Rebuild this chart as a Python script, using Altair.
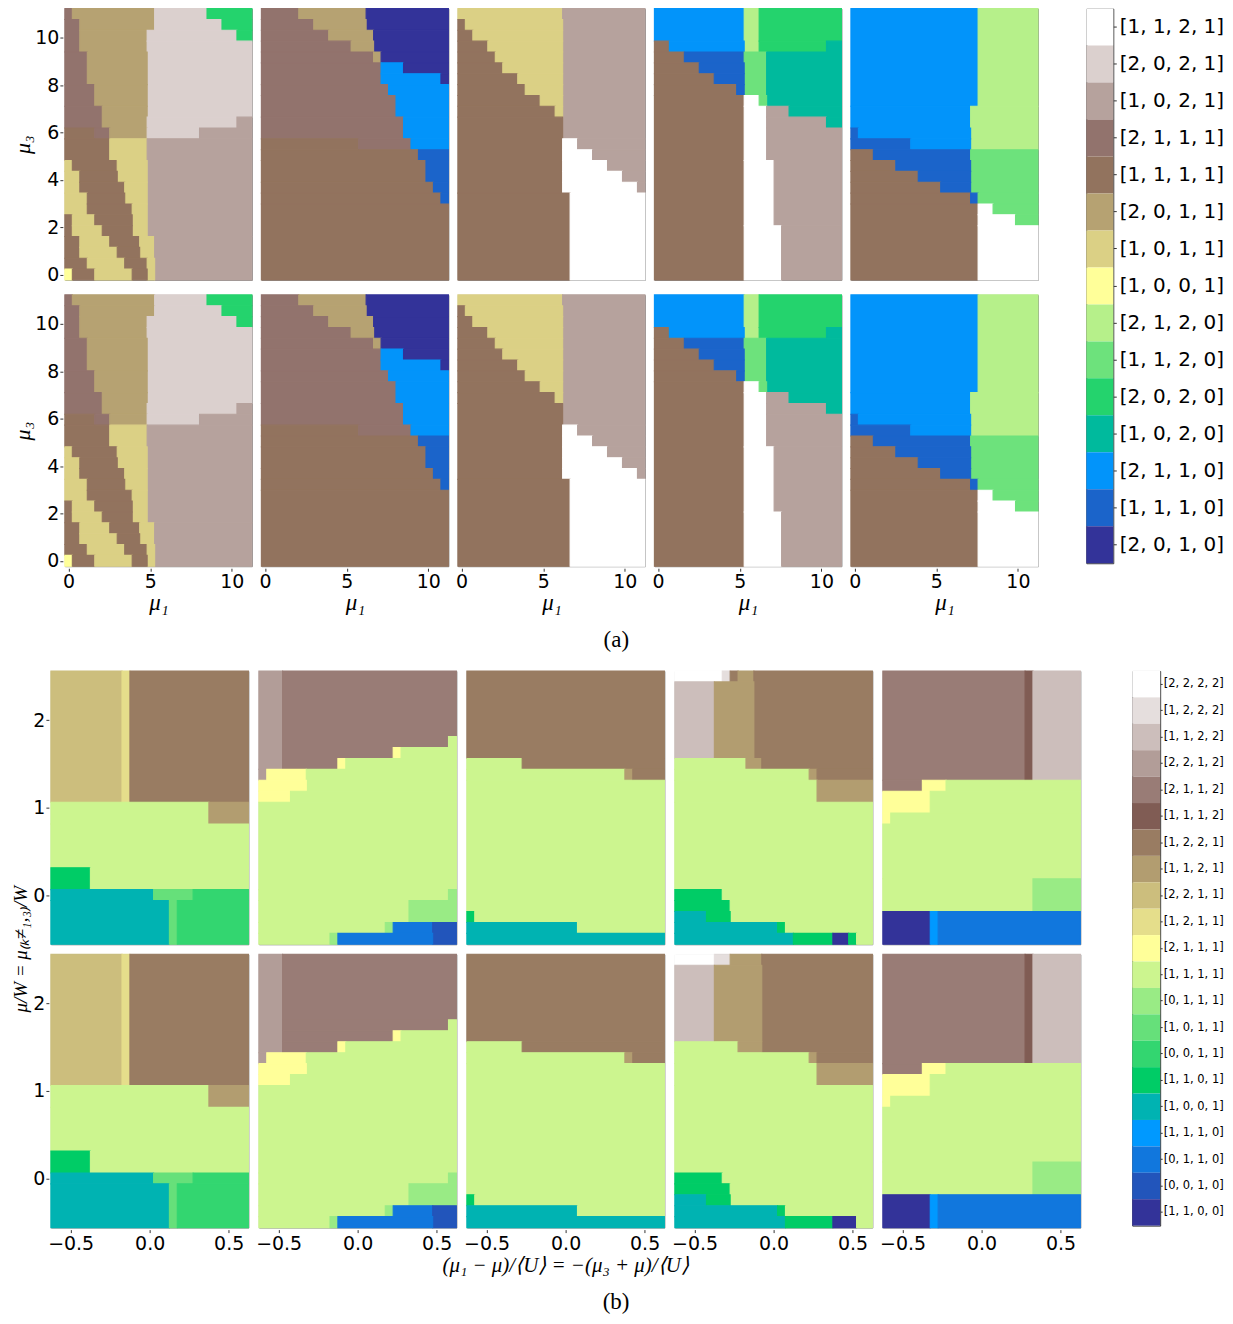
import re
import altair as alt
import pandas as pd

# ---------------- categories (top of each colour bar first) ----------------
CATS_A = ["[1, 1, 2, 1]", "[2, 0, 2, 1]", "[1, 0, 2, 1]", "[2, 1, 1, 1]", "[1, 1, 1, 1]",
          "[2, 0, 1, 1]", "[1, 0, 1, 1]", "[1, 0, 0, 1]", "[2, 1, 2, 0]", "[1, 1, 2, 0]",
          "[2, 0, 2, 0]", "[1, 0, 2, 0]", "[2, 1, 1, 0]", "[1, 1, 1, 0]", "[2, 0, 1, 0]"]
CODES_A = "WLGPBTYygmetsbd"   # one letter per category of CATS_A

CATS_B = ["[2, 2, 2, 2]", "[1, 2, 2, 2]", "[1, 1, 2, 2]", "[2, 2, 1, 2]", "[2, 1, 1, 2]",
          "[1, 1, 1, 2]", "[1, 2, 2, 1]", "[1, 1, 2, 1]", "[2, 2, 1, 1]", "[1, 2, 1, 1]",
          "[2, 1, 1, 1]", "[1, 1, 1, 1]", "[0, 1, 1, 1]", "[1, 0, 1, 1]", "[0, 0, 1, 1]",
          "[1, 1, 0, 1]", "[1, 0, 0, 1]", "[1, 1, 1, 0]", "[0, 1, 1, 0]", "[0, 0, 1, 0]",
          "[1, 1, 0, 0]"]
CODES_B = "utsrqponmlkjihgfedcba"

# ---------------- grids (25 x 25 cells) ----------------
NCELL = 25
GRID_A = (0.0, 11.0)          # mu1 and mu3 sample range
GRID_B_X = (-0.6, 0.6)
GRID_B_Y = (-0.5, 2.5)

# phase maps: rows listed from top (largest y) to bottom, run-length coded,
# "spec*n" repeats a row n times
A1 = ["P1T11L7e6", "P2T10L9e4", "P2T9L12e2", "P2T9L14", "P3T8L14*3", "P4T7L14*2",
      "P5T6L14", "P5T6L12G2", "B4P2T5L7G7", "B6Y5G14*2", "Y1B6Y4G14", "Y2B5Y4G14",
      "Y2B6Y3G14", "Y3B5Y3G14", "Y3B6Y2G14", "B1Y3B5Y2G14", "B1Y4B4Y2G14",
      "B2Y4B4Y2G13", "B2Y5B3Y2G13", "B3Y5B3Y1G13", "y1B3Y5B2Y1G13"]
A2 = ["P5T9d11", "P7T7d11", "P9T6d10", "P12T3d10", "P15T1d9", "P16s3d6", "P16s8d1",
      "P17s8", "P18s7*2", "P19s6*2", "B13P7s5", "B21b4", "B22b3*2", "B23b2", "B24b1",
      "B25*7"]
A3 = ["Y14G11", "B1Y13G11", "B2Y12G11", "B4Y10G11", "B5Y9G11", "B6Y8G11", "B8Y6G11",
      "B9Y5G11", "B11Y3G11", "B13Y1G11", "B14G11*2", "B14W2G9", "B14W4G7", "B14W6G5",
      "B14W8G3", "B14W10G1", "B15W10*8"]
A4 = ["s12g2e11*3", "B2s10g2e9t2", "B4b8m3t10", "B6b6m3t10", "B8b4m3t10", "B11b1m3t10",
      "B12W2m1t10", "B12W3G3t7", "B12W3G8t2", "B12W3G10*3", "B12W4G9*6", "B12W5G8*5"]
A5 = ["s17g8*9", "s16g9*2", "b1s15g9", "b8s8g9", "B3b13m9", "B6b10m9", "B9b7m9",
      "B12b4m9", "B16b1m8", "B17W2m6", "B17W5m3", "B17W8*5"]

B1 = ["m9l1o15*12", "j20n5*2", "j25*4", "f5j20*2", "e13h5g7", "e15h1g9*4"]
B2 = ["r3q22*6", "r3q21j1", "r3q14k1j7", "r3q7k1j14", "r1k5j19", "k6j19", "k4j21",
      "j25*8", "j24i1", "j19i6*2", "j16i1c5b3", "j9i1c12b3"]
B3 = ["o25*8", "j7o18", "j20n1o4", "j25*12", "f1j24", "e14j11", "e25"]
B4_TOP = ["u6t1o1n2o15", "s5n5o15*7", "j9n2o14", "j17n1o7", "j18n7*2", "j25*8",
          "f6j19", "f7j18", "e4f3j18", "e13f1j11", "e15f5a2f1j2"]
B4_BOT = ["u5t2n4o14", "s5n6o14*7", "j8n3o14", "j17n1o7", "j18n7*2", "j25*8",
          "f6j19", "f7j18", "e4f3j18", "e13f1j11", "e14f6a3j2"]
B5 = ["q18p1s6*10", "q5k3j17", "k6j19*2", "k1j24", "j25*5", "j19i6*3", "a6d1c18*3"]

PANELS_A = [[A1, A2, A3, A4, A5], [A1, A2, A3, A4, A5]]
PANELS_B = [[B1, B2, B3, B4_TOP, B5], [B1, B2, B3, B4_BOT, B5]]

# ---------------- colours: matplotlib "terrain" map, sampled per category ----------------
TERRAIN = [(0.00, (0.2, 0.2, 0.6)), (0.15, (0.0, 0.6, 1.0)), (0.25, (0.0, 0.8, 0.4)),
           (0.50, (1.0, 1.0, 0.6)), (0.75, (0.5, 0.36, 0.33)), (1.00, (1.0, 1.0, 1.0))]


def terrain(v):
    for (p0, c0), (p1, c1) in zip(TERRAIN[:-1], TERRAIN[1:]):
        if p0 <= v <= p1:
            t = (v - p0) / (p1 - p0)
            rgb = [a + (b - a) * t for a, b in zip(c0, c1)]
            return "#" + "".join(f"{round(255 * c):02x}" for c in rgb)
    return "#ffffff"


def palette(n):
    return [terrain((n - 1 - k) / (n - 1)) for k in range(n)]


COLORS_A = palette(len(CATS_A))
COLORS_B = palette(len(CATS_B))


def axis_vals(lo, hi):
    step = (hi - lo) / (NCELL - 1)
    return [lo + i * step for i in range(NCELL)], step


def expand(rows):
    out = []
    for r in rows:
        if "*" in r:
            spec, k = r.split("*")
            out += [spec] * int(k)
        else:
            out.append(r)
    assert len(out) == NCELL, rows
    return out


def build(panels, codes, cats, xr, yr):
    """Cells -> rectangles; identical runs in consecutive rows are merged."""
    xs, dx = axis_vals(*xr)
    ys, dy = axis_vals(*yr)
    recs = []
    for prow, prow_panels in enumerate(panels):
        for pcol, rows in enumerate(prow_panels):
            rows = expand(rows)
            open_runs = {}
            for ri, spec in enumerate(rows):
                j = NCELL - 1 - ri
                col = 0
                new_open = {}
                for ch, cnt in re.findall(r"([A-Za-z])(\d+)", spec):
                    cnt = int(cnt)
                    key = (col, cnt, ch)
                    if key in open_runs:
                        rec = open_runs.pop(key)
                        rec["y1"] = ys[j] - dy / 2
                    else:
                        rec = dict(prow=prow, pcol=pcol,
                                   x1=xs[col] - dx / 2, x2=xs[col + cnt - 1] + dx / 2,
                                   y1=ys[j] - dy / 2, y2=ys[j] + dy / 2,
                                   cat=cats[codes.index(ch)])
                        recs.append(rec)
                    new_open[key] = rec
                    col += cnt
                assert col == NCELL, spec
                open_runs = new_open
    dom_x = [xs[0] - dx / 2, xs[-1] + dx / 2]
    dom_y = [ys[0] - dy / 2, ys[-1] + dy / 2]
    return pd.DataFrame(recs), dom_x, dom_y


df_a, domx_a, domy_a = build(PANELS_A, CODES_A, CATS_A, GRID_A, GRID_A)
df_b, domx_b, domy_b = build(PANELS_B, CODES_B, CATS_B, GRID_B_X, GRID_B_Y)

LABEL_FONT = "DejaVu Sans"
MATH_FONT = "Liberation Serif"

axis_common = dict(labelFont=LABEL_FONT, labelFontSize=19, labelColor="black",
                   tickColor="#333", tickSize=3, domain=False, grid=False,
                   labelFlush=False, labelOverlap=False,
                   titleFont=MATH_FONT, titleFontStyle="italic", titleFontWeight="normal",
                   titleColor="black")


def anchor():
    """1-px invisible view: pins each block's left edge to the page edge."""
    return alt.Chart(pd.DataFrame({"v": [0]})).mark_point(
        size=0, opacity=0, strokeWidth=0
    ).encode(
        x=alt.X("v:Q", axis=None), y=alt.Y("v:Q", axis=None)
    ).properties(width=1, height=1, view=alt.ViewBackground(stroke="transparent"))


# ---------------- part (a) ----------------
scale_a = alt.Scale(domain=CATS_A, range=COLORS_A)
base_a = alt.Chart(df_a).mark_rect(strokeWidth=1.1).encode(
    x=alt.X("x1:Q", scale=alt.Scale(domain=domx_a, nice=False, zero=False),
            axis=alt.Axis(values=[0, 5, 10], title="μ₁", titlePadding=0, labelPadding=1,
                          titleFontSize=23, **axis_common)),
    x2="x2:Q",
    y=alt.Y("y1:Q", scale=alt.Scale(domain=domy_a, nice=False, zero=False),
            axis=alt.Axis(values=[0, 2, 4, 6, 8, 10], title="μ₃", titlePadding=0,
                          labelPadding=1, titleFontSize=22, **axis_common)),
    y2="y2:Q",
    color=alt.Color("cat:N", scale=scale_a, legend=None),
    stroke=alt.Stroke("cat:N", scale=scale_a, legend=None),
).properties(width=187.5, height=272)

facet_a = base_a.facet(
    row=alt.Row("prow:O", title=None, header=alt.Header(labels=False)),
    column=alt.Column("pcol:O", title=None, header=alt.Header(labels=False)),
    spacing={"row": 11, "column": 6},
)

cb_a = alt.Chart(pd.DataFrame({"cat": CATS_A})).mark_rect().encode(
    y=alt.Y("cat:N", sort=CATS_A, scale=alt.Scale(paddingInner=0, paddingOuter=0),
            axis=alt.Axis(orient="right", title=None, labelFont=LABEL_FONT, labelFontSize=20,
                          labelColor="black", tickColor="#333", tickSize=3, labelPadding=3,
                          domain=False)),
    color=alt.Color("cat:N", scale=scale_a, legend=None),
).properties(width=27, height=556, view=alt.ViewBackground(stroke="#333", strokeWidth=1))

block_a = alt.hconcat(anchor(), alt.hconcat(facet_a, cb_a, spacing=46), spacing=0).properties(
    title=alt.TitleParams("(a)", orient="bottom", anchor="middle", font=MATH_FONT,
                          fontSize=23, fontWeight="normal", color="black", offset=15))

# ---------------- part (b) ----------------
scale_b = alt.Scale(domain=CATS_B, range=COLORS_B)
base_b = alt.Chart(df_b).mark_rect(strokeWidth=1.1).encode(
    x=alt.X("x1:Q", scale=alt.Scale(domain=domx_b, nice=False, zero=False),
            axis=alt.Axis(values=[-0.5, 0.0, 0.5], format=".1f", title=None, labelPadding=2,
                          **axis_common)),
    x2="x2:Q",
    y=alt.Y("y1:Q", scale=alt.Scale(domain=domy_b, nice=False, zero=False),
            axis=alt.Axis(values=[0, 1, 2], format="d", title=None, labelPadding=1,
                          **axis_common)),
    y2="y2:Q",
    color=alt.Color("cat:N", scale=scale_b, legend=None),
    stroke=alt.Stroke("cat:N", scale=scale_b, legend=None),
).properties(width=198, height=274)

facet_b = base_b.facet(
    row=alt.Row("prow:O", title="μ/W = μ₍ₖ≠₁,₃₎/W",
                header=alt.Header(labels=False, titleOrient="left", titleFont=MATH_FONT,
                                  titleFontStyle="italic", titleFontWeight="normal",
                                  titleFontSize=19, titleColor="black", titlePadding=-9,
                                  labelPadding=0)),
    column=alt.Column("pcol:O", title="(μ₁ − μ)/⟨U⟩ = −(μ₃ + μ)/⟨U⟩",
                      header=alt.Header(labels=False, titleOrient="bottom", titleFont=MATH_FONT,
                                        titleFontStyle="italic", titleFontWeight="normal",
                                        titleFontSize=21, titleColor="black", titlePadding=-8,
                                        labelPadding=0)),
    spacing={"row": 6, "column": 6.5},
)

cb_b = alt.Chart(pd.DataFrame({"cat": CATS_B})).mark_rect().encode(
    y=alt.Y("cat:N", sort=CATS_B, scale=alt.Scale(paddingInner=0, paddingOuter=0),
            axis=alt.Axis(orient="right", title=None, labelFont=LABEL_FONT, labelFontSize=11.5,
                          labelColor="black", tickColor="#333", tickSize=2, labelPadding=1,
                          domain=False)),
    color=alt.Color("cat:N", scale=scale_b, legend=None),
).properties(width=28, height=556, view=alt.ViewBackground(stroke="#333", strokeWidth=1))

block_b = alt.hconcat(anchor(), alt.hconcat(facet_b, cb_b, spacing=49), spacing=0).properties(
    title=alt.TitleParams("(b)", orient="bottom", anchor="middle", font=MATH_FONT,
                          fontSize=23, fontWeight="normal", color="black", offset=15))

chart = alt.vconcat(block_a, block_b, spacing=17).resolve_scale(
    color="independent", stroke="independent"
).properties(
    padding={"left": 0, "top": -3, "right": 0, "bottom": 0}
).configure_view(stroke="#888", strokeWidth=1)

chart.save("out.html", embed_options={"renderer": "svg", "actions": False})
